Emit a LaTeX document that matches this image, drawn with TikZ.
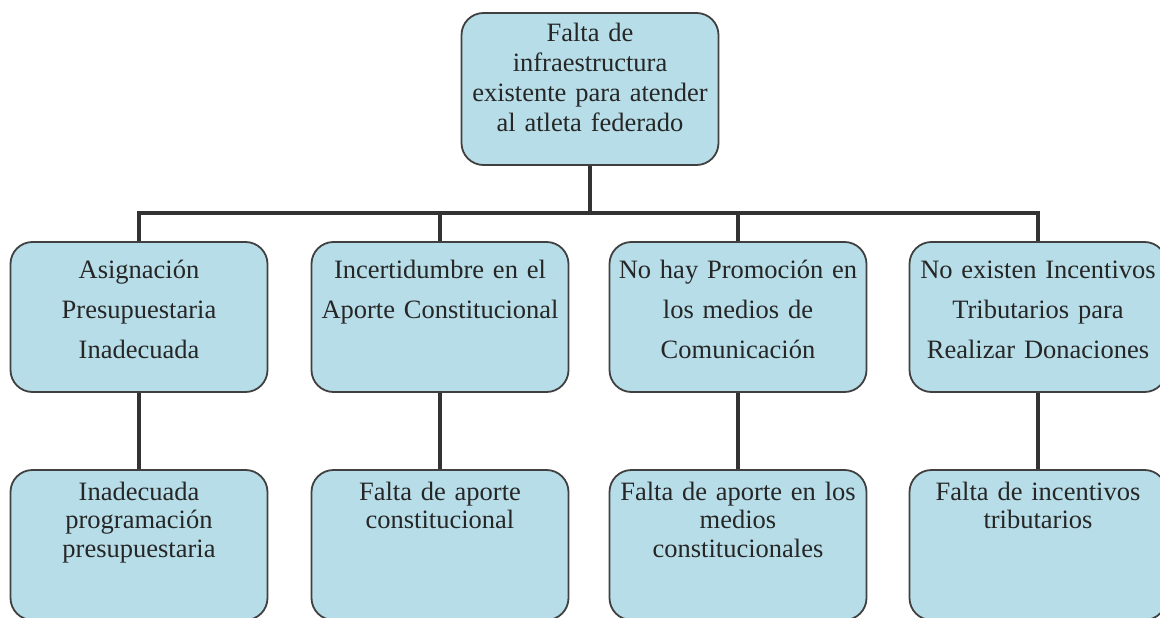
\documentclass[tikz,border=0pt]{standalone}
\usepackage{fontspec}
\setmainfont{Liberation Serif}
\usetikzlibrary{backgrounds}
\definecolor{boxfill}{HTML}{B7DEE8}
\definecolor{boxline}{HTML}{404040}
\definecolor{connline}{HTML}{333333}
\begin{document}
\begin{tikzpicture}[x=1pt,y=-1pt,
	box/.style={draw=boxline, line width=1.8pt, fill=boxfill, rounded corners=22pt,
		text width=250pt, minimum width=257pt, inner xsep=3.5pt, inner ysep=0pt,
		align=center, text=black!85},
	problema/.style={box, font=\fontsize{26.5}{30}\selectfont, text height=29pt, text depth=123pt},
	causa/.style={box, font=\fontsize{26.5}{40}\selectfont, text height=36pt, text depth=114pt},
	efecto/.style={box, font=\fontsize{26.5}{28.5}\selectfont, text height=30pt, text depth=120pt},
	conn/.style={draw=connline, line width=4.5pt}]
	\useasboundingbox (0,0) rectangle (1160,618);
	\clip (0,0) rectangle (1160,618);
	% problema central
	\node [problema] (prob) at (590,89) {Falta de\\infraestructura\\existente para atender\\al atleta federado};
	% causas
	\node [causa] (c1) at (139,317) {Asignación\\Presupuestaria\\Inadecuada};
	\node [causa] (c2) at (440,317) {Incertidumbre en el\\Aporte Constitucional};
	\node [causa] (c3) at (738,317) {No hay Promoción en\\los medios de\\Comunicación};
	\node [causa] (c4) at (1038,317) {No existen Incentivos\\Tributarios para\\Realizar Donaciones};
	% efectos
	\node [efecto] (e1) at (139,545) {Inadecuada\\programación\\presupuestaria};
	\node [efecto] (e2) at (440,545) {Falta de aporte\\constitucional};
	\node [efecto] (e3) at (738,545) {Falta de aporte en los\\medios\\constitucionales};
	\node [efecto] (e4) at (1038,545) {Falta de incentivos\\tributarios};
	\coordinate (bar) at (590,213);
	\begin{pgfonlayer}{background}
	\fill [white] (0,0) rectangle (1160,618);
	\draw [conn] (prob) -- (bar);
	\foreach \i in {1,...,4} {
		\draw [conn] (bar) -| (c\i);
		\draw [conn] (c\i) -- (e\i);
	}
	\end{pgfonlayer}
\end{tikzpicture}
\end{document}
